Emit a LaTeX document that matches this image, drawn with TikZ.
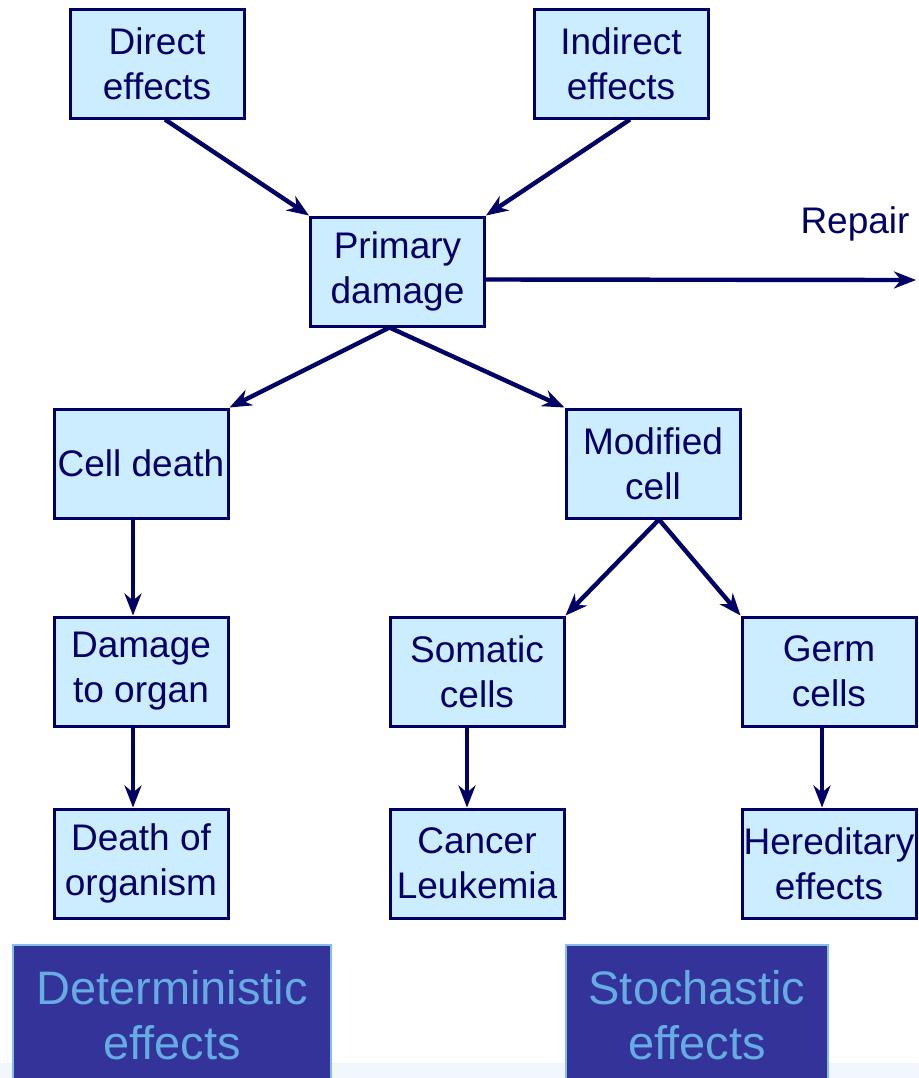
\documentclass[tikz,border=0pt]{standalone}
\usepackage{fontspec}
\setmainfont{Liberation Sans}
\usetikzlibrary{arrows.meta}
\definecolor{navy}{RGB}{0,0,102}
\definecolor{boxfill}{RGB}{204,236,255}
\definecolor{darkfill}{RGB}{51,51,153}
\definecolor{paletext}{RGB}{100,172,226}
\definecolor{bandfill}{RGB}{241,247,253}
\begin{document}
\begin{tikzpicture}[x=0.5pt,y=-0.5pt,
	box/.style={draw=navy,line width=1.5pt,fill=boxfill,text=navy,minimum width=87pt,minimum height=54.5pt,inner sep=0pt,align=center,font=\fontsize{18.5}{22.5}\selectfont},
	bigbox/.style={draw=paletext!80!white,line width=0.6pt,fill=darkfill,text=paletext,minimum height=70pt,inner sep=0pt,align=center,font=\fontsize{23.5}{27.5}\selectfont},
	arrow/.style={draw=navy,line width=2.2pt,-{Stealth[length=11pt,width=8.5pt,inset=3.5pt]}}]
				\useasboundingbox (0,0) rectangle (919,1078);
				\fill[bandfill] (0,1063) rectangle (919,1078);
				
				\node[box] (direct) at (157,63.5) {Direct\\effects};
				\node[box] (indirect) at (621,63.5) {Indirect\\effects};
				\node[box] (primary) at (397.5,271.5) {Primary\\damage};
				\node[text=navy,font=\fontsize{18.5}{22.5}\selectfont] (repair) at (855,224) {Repair};
				\coordinate (repairend) at (916,280);
				
				\node[box] (celldeath) at (141,463.5) {Cell death};
				\node[box] (modified) at (653,463.5) {Modified\\cell};
				\node[box] (organ) at (141,671.5) {Damage\\to organ};
				\node[box] (somatic) at (477,671.5) {Somatic\\cells};
				\node[box] (germ) at (829,671.5) {Germ\\cells};
				\node[box] (organism) at (141,863.5) {Death of\\organism};
				\node[box] (cancer) at (477,863.5) {Cancer\\Leukemia};
				\node[box] (hereditary) at (829,863.5) {Hereditary\\effects};
				
				\node[bigbox,minimum width=159pt] (determ) at (172,1015) {Deterministic\\effects};
				\node[bigbox,minimum width=131pt] (stoch) at (697,1015) {Stochastic\\effects};
				
				\draw[arrow] ([xshift=4pt]direct.south) -- (primary.north west);
				\draw[arrow] ([xshift=4.5pt]indirect.south) -- (primary.north east);
				\draw[arrow] ([yshift=-4pt]primary.east) -- (repairend);
				\draw[arrow] ([xshift=-4pt]primary.south) -- (celldeath.north east);
				\draw[arrow] ([xshift=-4pt]primary.south) -- (modified.north west);
				\draw[arrow] ([xshift=-4pt]celldeath.south) -- ([xshift=-4pt]organ.north);
				\draw[arrow] ([xshift=3pt]modified.south) -- (somatic.north east);
				\draw[arrow] ([xshift=3pt]modified.south) -- (germ.north west);
				\draw[arrow] ([xshift=-4pt]organ.south) -- ([xshift=-4pt]organism.north);
				\draw[arrow] ([xshift=-5pt]somatic.south) -- ([xshift=-5pt]cancer.north);
				\draw[arrow] ([xshift=-3.5pt]germ.south) -- ([xshift=-3.5pt]hereditary.north);
			\end{tikzpicture}
\end{document}
